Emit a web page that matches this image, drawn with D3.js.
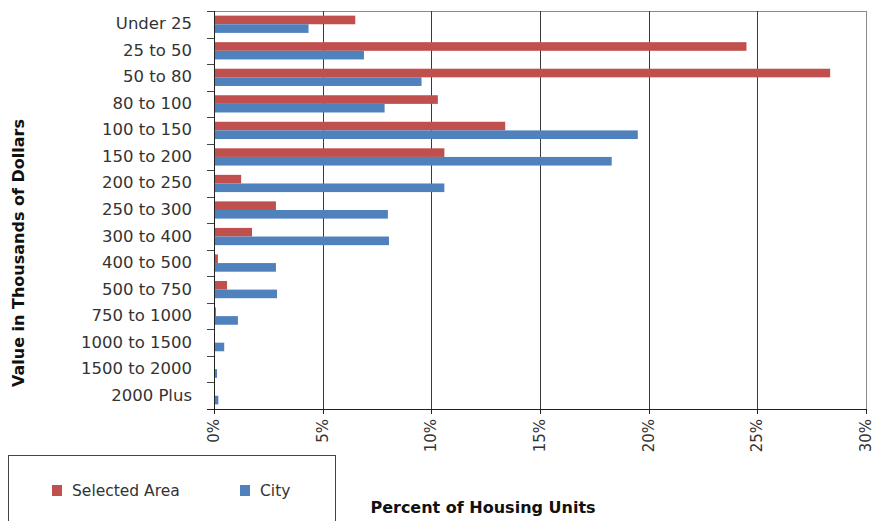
<!DOCTYPE html>
<html>
<head>
<meta charset="utf-8">
<script src="https://cdn.jsdelivr.net/npm/d3@7"></script>
<style>
  html, body { margin: 0; padding: 0; background: #fff; }
  svg { display: block; }
  text { font-family: "DejaVu Sans", sans-serif; }
</style>
</head>
<body>
<svg id="chart" width="877" height="521"></svg>
<script>
const categories = ["Under 25","25 to 50","50 to 80","80 to 100","100 to 150","150 to 200","200 to 250","250 to 300","300 to 400","400 to 500","500 to 750","750 to 1000","1000 to 1500","1500 to 2000","2000 Plus"];
const seriesNames = ["Selected Area", "City"];
const selectedArea = [6.5, 24.5, 28.35, 10.3, 13.4, 10.6, 1.25, 2.85, 1.75, 0.18, 0.6, 0.09, 0, 0, 0];
const city = [4.35, 6.9, 9.55, 7.85, 19.5, 18.3, 10.6, 8.0, 8.05, 2.85, 2.9, 1.1, 0.47, 0.14, 0.2];
const xTicks = [0, 5, 10, 15, 20, 25, 30];
const colors = ["#C0504D", "#4F81BD"];

const svg = d3.select("#chart");
const m = { left: 214, right: 866, top: 11, bottom: 409 };

const x = d3.scaleLinear().domain([0, 30]).range([m.left, m.right]);
const y0 = d3.scaleBand().domain(categories).range([m.top, m.bottom]).paddingInner(0.35).paddingOuter(0.175);
const y1 = d3.scaleBand().domain(seriesNames).range([0, y0.bandwidth()]);

// plot border (top)
svg.append("line").attr("x1", m.left).attr("x2", m.right).attr("y1", m.top + 0.5).attr("y2", m.top + 0.5)
  .attr("stroke", "#8a8a8a").attr("stroke-width", 1);

// grid lines
svg.append("g").selectAll("line").data(xTicks.filter(d => d > 0)).join("line")
  .attr("x1", d => Math.round(x(d)) + 0.5).attr("x2", d => Math.round(x(d)) + 0.5)
  .attr("y1", m.top).attr("y2", m.bottom)
  .attr("stroke", d => d === 30 ? "#8a8a8a" : "#3a3a3a").attr("stroke-width", 1);

// bars
const rows = categories.map((c, i) => ({ c, vals: [selectedArea[i], city[i]] }));
const g = svg.append("g");
rows.forEach(r => {
  r.vals.forEach((v, j) => {
    if (v <= 0) return;
    g.append("rect")
      .attr("x", x(0))
      .attr("y", y0(r.c) + y1(seriesNames[j]))
      .attr("width", x(v) - x(0))
      .attr("height", y1.bandwidth())
      .attr("fill", colors[j]);
  });
});

// y axis line & ticks at band boundaries
svg.append("line").attr("x1", m.left + 0.5).attr("x2", m.left + 0.5).attr("y1", m.top).attr("y2", m.bottom + 5)
  .attr("stroke", "#222");
const step = y0.step();
const boundaries = d3.range(categories.length + 1).map(i => m.top + i * step);
svg.append("g").selectAll("line").data(boundaries).join("line")
  .attr("x1", m.left - 7).attr("x2", m.left)
  .attr("y1", d => Math.round(d) + 0.5).attr("y2", d => Math.round(d) + 0.5)
  .attr("stroke", "#444");

// category labels
svg.append("g").selectAll("text").data(categories).join("text")
  .attr("x", 192)
  .attr("y", d => y0(d) + y0.bandwidth() / 2 + 0.5)
  .attr("text-anchor", "end")
  .attr("dominant-baseline", "middle")
  .attr("font-size", 16.5)
  .attr("fill", "#333")
  .text(d => d);

// x axis
svg.append("line").attr("x1", m.left - 7).attr("x2", m.right).attr("y1", m.bottom + 0.5).attr("y2", m.bottom + 0.5)
  .attr("stroke", "#222");
svg.append("g").selectAll("line").data(xTicks).join("line")
  .attr("x1", d => Math.round(x(d)) + 0.5).attr("x2", d => Math.round(x(d)) + 0.5)
  .attr("y1", m.bottom).attr("y2", m.bottom + 5)
  .attr("stroke", "#222");
svg.append("g").selectAll("text").data(xTicks).join("text")
  .attr("transform", d => `translate(${x(d) + 5},${m.bottom + 10}) rotate(-90)`)
  .attr("text-anchor", "end")
  .attr("font-size", 15)
  .attr("fill", "#333")
  .text(d => d + "%");

// axis titles
svg.append("text")
  .attr("transform", `translate(24,253) rotate(-90)`)
  .attr("text-anchor", "middle")
  .attr("font-size", 16)
  .attr("font-weight", "bold")
  .attr("fill", "#111")
  .text("Value in Thousands of Dollars");

svg.append("text")
  .attr("x", 483).attr("y", 513)
  .attr("text-anchor", "middle")
  .attr("font-size", 16)
  .attr("font-weight", "bold")
  .attr("fill", "#111")
  .text("Percent of Housing Units");

// legend
svg.append("rect").attr("x", 8.5).attr("y", 455.5).attr("width", 327).attr("height", 80)
  .attr("fill", "none").attr("stroke", "#444");
const legendX = [52, 240];
seriesNames.forEach((s, j) => {
  svg.append("rect").attr("x", legendX[j]).attr("y", 485).attr("width", 10).attr("height", 11).attr("fill", colors[j]);
  svg.append("text").attr("x", legendX[j] + 20).attr("y", 491)
    .attr("dominant-baseline", "middle")
    .attr("font-size", 15.5).attr("fill", "#333").text(s);
});
</script>
</body>
</html>
